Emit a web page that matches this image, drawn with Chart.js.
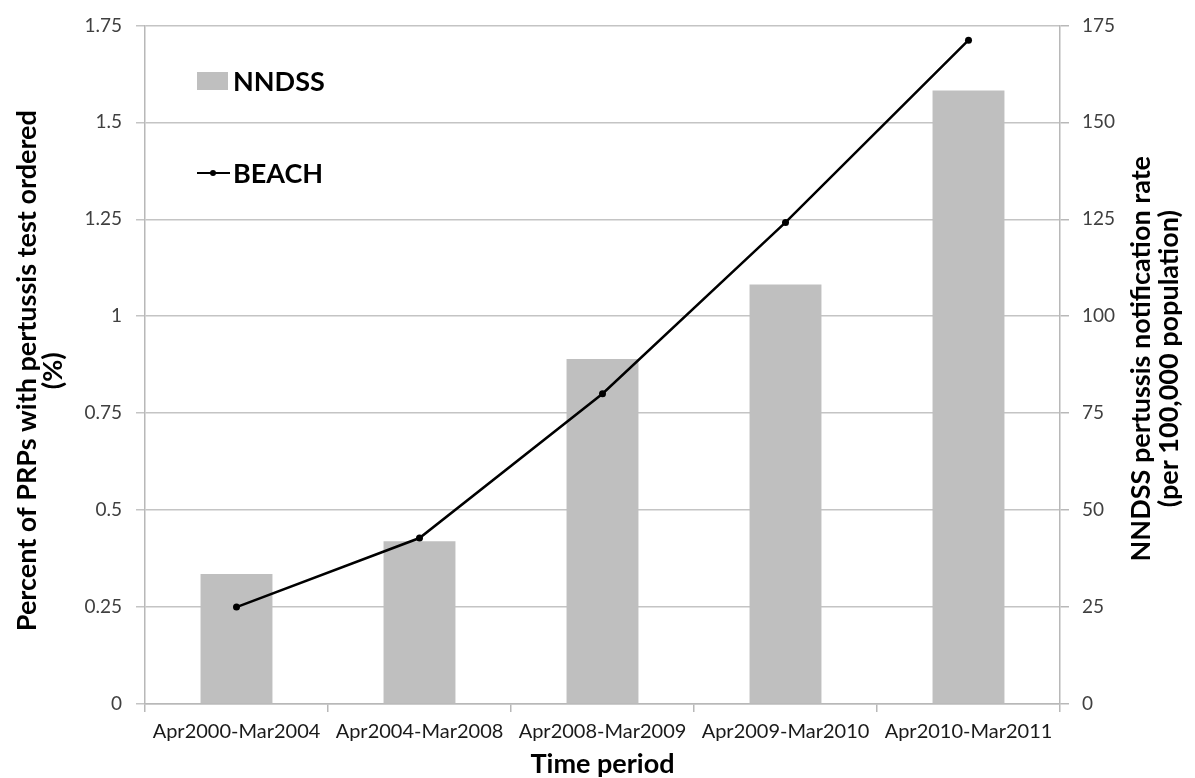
<!DOCTYPE html>
<html>
<head>
<meta charset="utf-8">
<script src="https://cdn.jsdelivr.net/npm/chart.js@4.4.0/dist/chart.umd.min.js"></script>
<style>
html,body{margin:0;padding:0;background:#fff;}
#wrap{width:1195px;height:778px;position:relative;}
</style>
</head>
<body>
<div id="wrap"><canvas id="c" width="1195" height="778"></canvas></div>
<script>
const categories = ["Apr2000-Mar2004","Apr2004-Mar2008","Apr2008-Mar2009","Apr2009-Mar2010","Apr2010-Mar2011"];
const nndssRate = [33.5, 42.0, 89.0, 108.2, 158.2];
const beachPercent = [0.25, 0.428, 0.80, 1.242, 1.712];
const leftTickLabels = ["0","0.25","0.5","0.75","1","1.25","1.5","1.75"];
const rightTickLabels = ["0","25","50","75","100","125","150","175"];
const seriesNames = ["NNDSS","BEACH"];
const xTitle = "Time period";
const leftTitle = ["Percent of PRPs with pertussis test ordered", "(%)"];
const rightTitle = ["NNDSS pertussis notification rate", "(per 100,000 population)"];

const FONT = "Lato, 'Open Sans', sans-serif";
const TICK_COLOR = "#404040";
const GRID = "#c4c4c4";
const AXIS = "#b8b8b8";

const decorPlugin = {
  id: 'decor',
  afterDraw(chart) {
    const ctx = chart.ctx;
    const a = chart.chartArea;
    ctx.save();
    ctx.fillStyle = "#000";
    ctx.textAlign = "left";
    ctx.textBaseline = "middle";
    ctx.font = "bold 27px " + FONT;
    // Legend: NNDSS
    const lx = 197;
    let y = 81;
    ctx.fillStyle = "#bfbfbf";
    ctx.fillRect(lx, y - 9, 31, 18);
    ctx.fillStyle = "#000";
    ctx.fillText(seriesNames[0], lx + 36, y + 1);
    // Legend: BEACH
    y = 173;
    ctx.strokeStyle = "#000";
    ctx.lineWidth = 2;
    ctx.beginPath(); ctx.moveTo(lx, y); ctx.lineTo(lx + 33, y); ctx.stroke();
    ctx.beginPath(); ctx.arc(lx + 16, y, 3, 0, Math.PI * 2); ctx.fill();
    ctx.fillText(seriesNames[1], lx + 36, y + 1);

    // Axis titles
    ctx.textAlign = "center";
    ctx.fillText(xTitle, (a.left + a.right) / 2, 764);
    const cy = (a.top + a.bottom) / 2;
    // left title
    ctx.save();
    ctx.translate(27, cy + 6);
    ctx.rotate(-Math.PI / 2);
    ctx.fillText(leftTitle[0], 0, 0);
    ctx.fillText(leftTitle[1], 0, 26);
    ctx.restore();
    // right title (also reads bottom-to-top)
    ctx.save();
    ctx.translate(1141, cy - 6);
    ctx.rotate(-Math.PI / 2);
    ctx.fillText(rightTitle[0], 0, 0);
    ctx.fillText(rightTitle[1], 0, 28);
    ctx.restore();
    ctx.restore();
  }
};

new Chart(document.getElementById('c'), {
  data: {
    labels: categories,
    datasets: [
      {
        type: 'line', label: seriesNames[1], data: beachPercent, yAxisID: 'y',
        borderColor: '#000', backgroundColor: '#000', borderWidth: 2.5,
        pointRadius: 3.5, pointBackgroundColor: '#000', pointBorderWidth: 0,
        tension: 0, order: 0
      },
      {
        type: 'bar', label: seriesNames[0], data: nndssRate, yAxisID: 'y1',
        backgroundColor: '#bfbfbf', borderWidth: 0,
        barPercentage: 0.393, categoryPercentage: 1.0, order: 1
      }
    ]
  },
  options: {
    responsive: false,
    animation: false,
    devicePixelRatio: 1,
    layout: { padding: { top: 25, right: 0, bottom: 0, left: 0 } },
    plugins: { legend: { display: false }, tooltip: { enabled: false } },
    scales: {
      x: {
        offset: true,
        afterFit: (s) => { s.height = 74; },
        grid: { display: true, drawOnChartArea: false, offset: true, color: AXIS, tickLength: 8, lineWidth: 1.5 },
        border: { color: AXIS, width: 1.5 },
        ticks: { color: '#1a1a1a', font: { family: FONT, size: 20 }, maxRotation: 0, minRotation: 0, autoSkip: false, padding: 8 },
        title: { display: false }
      },
      y: {
        position: 'left', min: 0, max: 1.75,
        afterFit: (s) => { s.width = 145; },
        afterBuildTicks: (s) => { s.ticks = leftTickLabels.map(v => ({ value: parseFloat(v) })); },
        ticks: { color: TICK_COLOR, font: { family: FONT, size: 19 }, padding: 14,
          callback: (v, i) => leftTickLabels[i] },
        grid: { color: GRID, tickLength: 9, lineWidth: 1.5 },
        border: { color: AXIS, width: 1.5 },
        title: { display: false }
      },
      y1: {
        position: 'right', min: 0, max: 175,
        afterFit: (s) => { s.width = 135; },
        afterBuildTicks: (s) => { s.ticks = rightTickLabels.map(v => ({ value: parseFloat(v) })); },
        ticks: { color: TICK_COLOR, font: { family: FONT, size: 19 }, padding: 13,
          callback: (v, i) => rightTickLabels[i] },
        grid: { drawOnChartArea: false, color: AXIS, tickLength: 9, lineWidth: 1.5 },
        border: { color: AXIS, width: 1.5 },
        title: { display: false }
      }
    }
  },
  plugins: [decorPlugin]
});
</script>
</body>
</html>
